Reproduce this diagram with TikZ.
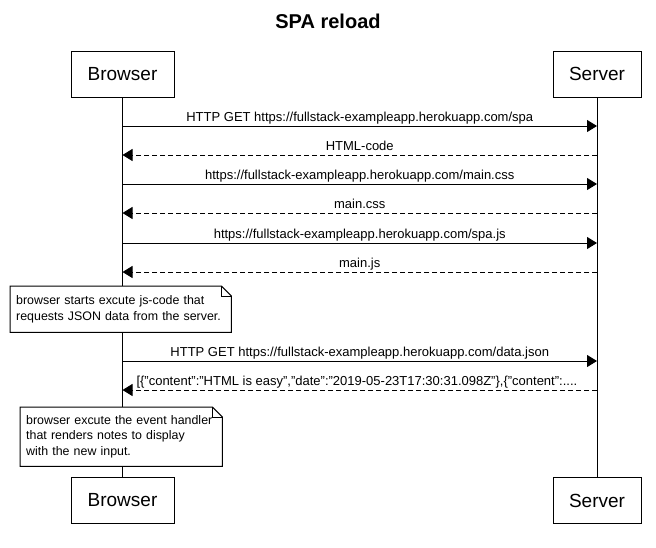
\documentclass[tikz,border=0pt]{standalone}
\usepackage{fontspec}
\setmainfont{Liberation Sans}
\usetikzlibrary{positioning,calc,arrows.meta}

\begin{document}
\begin{tikzpicture}[x=1pt,y=-1pt,
    actor/.style={rectangle,draw,line width=1pt,minimum height=46pt,inner sep=0pt,font=\fontsize{19}{22}\selectfont},
    msg/.style={line width=1pt,-{Triangle[length=10pt,width=12pt]}},
    reply/.style={msg,dash pattern=on 5pt off 3pt},
    lbl/.style={anchor=base,yshift=5pt,inner sep=0pt,font=\fontsize{13}{15}\selectfont},
    notebox/.style={anchor=north west,align=left,fill=white,inner xsep=6pt,inner ysep=0pt,font=\fontsize{12.4}{15.5}\selectfont}
]
    \useasboundingbox (0,0) rectangle (656,547);
    \node[font=\bfseries\fontsize{20}{24}\selectfont] (title) at (328,21) {SPA reload};

    % participants, top and bottom
    \node[actor,minimum width=103pt] (browser) at (122.5,74) {Browser};
    \node[actor,minimum width=88pt] (server) at (597,74) {Server};
    \node[actor,minimum width=103pt] (browser2) at (122.5,500.5) {Browser};
    \node[actor,minimum width=88pt] (server2) at (597,500.5) {Server};

    % lifelines
    \draw[line width=1pt] (browser) -- (browser2);
    \draw[line width=1pt] (server) -- (server2);

    % message ends on the lifelines
    \foreach \y [count=\i] in {126,155,184,213,243,272,361,390} {
        \coordinate (b\i) at (122.5,\y);
        \coordinate (s\i) at (597,\y);
    }

    \draw[msg] (b1) -- node[lbl] {HTTP GET https://fullstack-exampleapp.herokuapp.com/spa} (s1);
    \draw[reply] (s2) -- node[lbl] {HTML-code} (b2);
    \draw[msg] (b3) -- node[lbl] {https://fullstack-exampleapp.herokuapp.com/main.css} (s3);
    \draw[reply] (s4) -- node[lbl] {main.css} (b4);
    \draw[msg] (b5) -- node[lbl] {https://fullstack-exampleapp.herokuapp.com/spa.js} (s5);
    \draw[reply] (s6) -- node[lbl] {main.js} (b6);

    % first note
    \node[notebox,text width=209pt,minimum height=46pt] (note1) at (10,286)
        {browser starts excute js-code that\\requests JSON data from the server.};
    \draw[line width=1pt] (note1.north west) -- ($(note1.north east)+(-10,0)$) -- ($(note1.north east)+(0,10)$)
        -- (note1.south east) -- (note1.south west) -- cycle;
    \draw[line width=1pt] ($(note1.north east)+(-10,0)$) -- ($(note1.north east)+(-10,10)$) -- ($(note1.north east)+(0,10)$);

    \draw[msg] (b7) -- node[lbl] {HTTP GET https://fullstack-exampleapp.herokuapp.com/data.json} (s7);
    \draw[reply] (s8) -- node[lbl,pos=1,anchor=base west,xshift=13.5pt] {[\{"content":"HTML is easy","date":"2019-05-23T17:30:31.098Z"\},\{"content":....} (b8);

    % second note
    \node[notebox,text width=190pt,minimum height=59pt] (note2) at (20,407)
        {browser excute the event handler\\that renders notes to display\\with the new input.};
    \draw[line width=1pt] (note2.north west) -- ($(note2.north east)+(-10,0)$) -- ($(note2.north east)+(0,10)$)
        -- (note2.south east) -- (note2.south west) -- cycle;
    \draw[line width=1pt] ($(note2.north east)+(-10,0)$) -- ($(note2.north east)+(-10,10)$) -- ($(note2.north east)+(0,10)$);
\end{tikzpicture}
\end{document}
